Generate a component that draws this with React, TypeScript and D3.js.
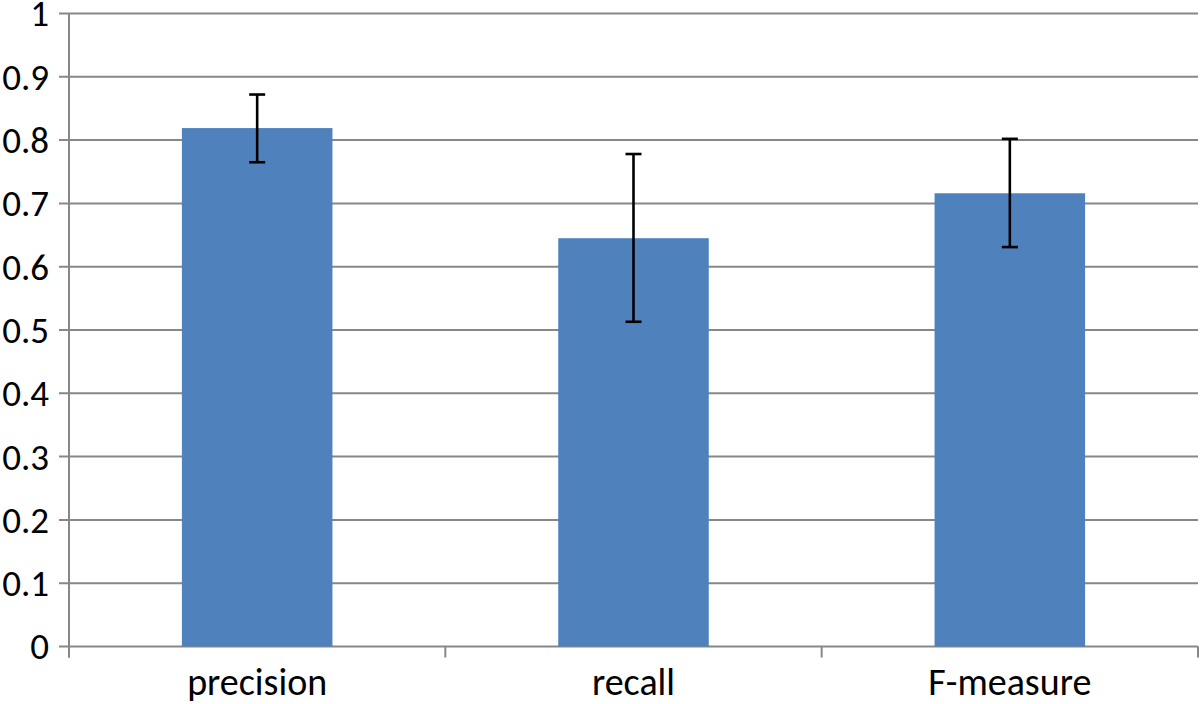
import React from 'react'
import * as d3 from 'd3'

// values
const categories = ['precision', 'recall', 'F-measure']
const means = [0.819, 0.645, 0.716]
const lowers = [0.765, 0.513, 0.631]
const uppers = [0.872, 0.778, 0.802]
const yTicks = [0, 0.1, 0.2, 0.3, 0.4, 0.5, 0.6, 0.7, 0.8, 0.9, 1]
const yTickLabels = ['0', '0.1', '0.2', '0.3', '0.4', '0.5', '0.6', '0.7', '0.8', '0.9', '1']

export default function App() {
  const width = 1200
  const height = 704
  const left = 69
  const right = 1198
  const top = 13.5
  const bottom = 646.5

  const x = d3.scaleBand<string>()
    .domain(categories)
    .range([left, right])
    .paddingInner(0.6)
    .paddingOuter(0.3)
  const y = d3.scaleLinear().domain([0, 1]).range([bottom, top])

  const step = (right - left) / categories.length
  const grid = '#878787'
  const font = "Carlito, Lato, 'Open Sans', sans-serif"
  const fs = 38

  return (
    <svg width={width} height={height} viewBox={`0 0 ${width} ${height}`}
      style={{position: 'absolute', left: 0, top: 0, background: '#fff'}}>
      {/* gridlines + y ticks */}
      {yTicks.map((t, i) => (
        <g key={'g' + i}>
          <line x1={59} x2={right} y1={y(t)} y2={y(t)} stroke={grid} strokeWidth={2} />
          <text x={49} y={y(t)} dy="0.35em" textAnchor="end" fontSize={fs - 1}
            fontFamily={font} fill="#000">{yTickLabels[i]}</text>
        </g>
      ))}
      {/* y axis */}
      <line x1={left} x2={left} y1={top} y2={bottom + 11} stroke={grid} strokeWidth={2} />
      {/* category ticks */}
      {d3.range(categories.length + 1).map(i => (
        <line key={'t' + i} x1={left + i * step} x2={left + i * step} y1={bottom} y2={bottom + 11}
          stroke={grid} strokeWidth={2} />
      ))}
      {/* bars */}
      {categories.map((c, i) => (
        <rect key={'b' + c} x={x(c)} y={y(means[i])} width={x.bandwidth()}
          height={y(0) - y(means[i])} fill="#4F81BD" />
      ))}
      {/* error bars */}
      {categories.map((c, i) => {
        const cx = (x(c) as number) + x.bandwidth() / 2
        return (
          <g key={'e' + c} stroke="#000" strokeWidth={2.6}>
            <line x1={cx} x2={cx} y1={y(uppers[i])} y2={y(lowers[i])} />
            <line x1={cx - 8} x2={cx + 8} y1={y(uppers[i])} y2={y(uppers[i])} />
            <line x1={cx - 8} x2={cx + 8} y1={y(lowers[i])} y2={y(lowers[i])} />
          </g>
        )
      })}
      {/* category labels */}
      {categories.map(c => (
        <text key={'l' + c} x={(x(c) as number) + x.bandwidth() / 2} y={695} textAnchor="middle"
          fontSize={fs} fontFamily={font} fill="#000">{c}</text>
      ))}
    </svg>
  )
}
